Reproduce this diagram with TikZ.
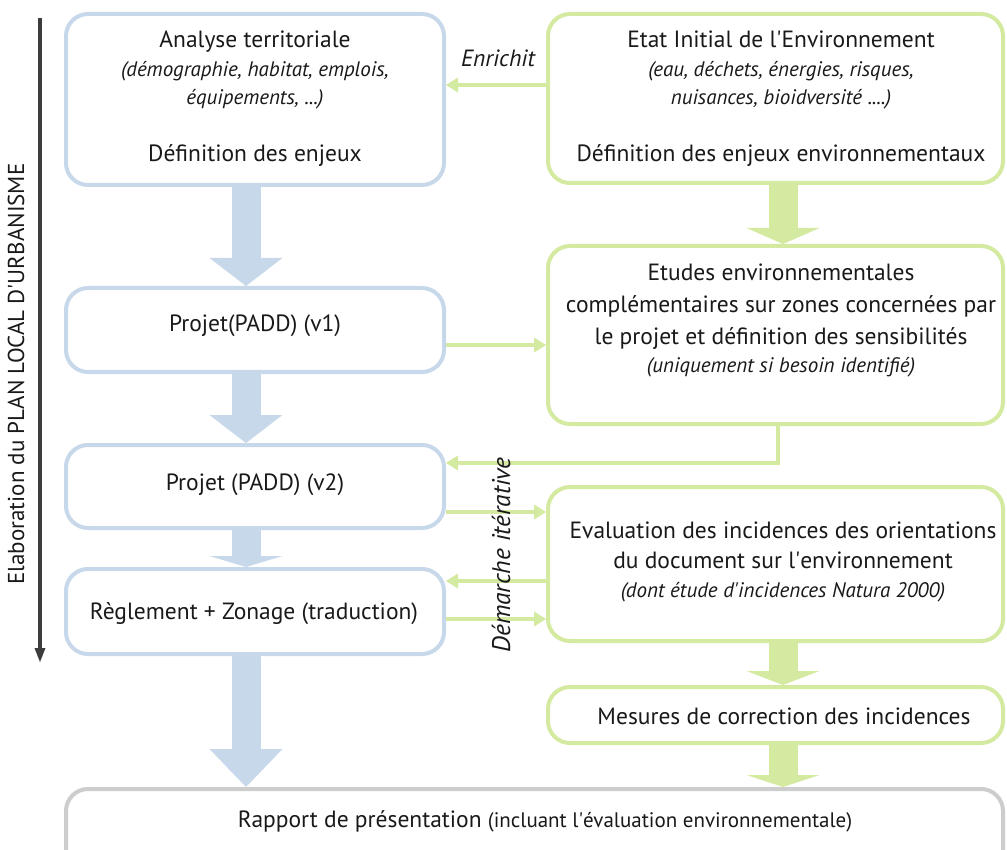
\documentclass[tikz,border=0pt]{standalone}
\usepackage{fontspec}
\setmainfont{PT Sans}
\usetikzlibrary{arrows.meta}
\pgfdeclarelayer{back}
\pgfdeclarelayer{bg}
\pgfsetlayers{back,bg,main}
\definecolor{bl}{RGB}{200,216,235}
\definecolor{gr}{RGB}{212,234,160}
\definecolor{gy}{RGB}{205,205,205}
\definecolor{tx}{RGB}{25,25,25}
\definecolor{dk}{RGB}{60,60,60}
\newcommand\mainsz{\fontsize{23.5}{28.5}\selectfont}
\newcommand\itsz{\fontsize{21}{28.5}\selectfont\itshape}
\newcommand\q{\textquotesingle}
\begin{document}
\begin{tikzpicture}[x=1pt,y=-1pt,
  box/.style={line width=4pt, rounded corners=22pt, fill=white, inner sep=0pt},
  bbox/.style={box, draw=bl, minimum width=378pt},
  gbox/.style={box, draw=gr, minimum width=455pt},
  txt/.style={align=center, text=tx, font=\mainsz, inner sep=0pt},
  itl/.style={text=tx, font=\itsz, inner sep=0pt},
  link/.style={draw=gr, line width=4pt, -{Triangle[length=12pt,width=15pt,line width=0pt]}},
  fatb/.style={line width=29pt, draw=bl, -{Triangle[length=#1,width=73pt,line width=0pt]}},
  fatg/.style={line width=29pt, draw=gr, -{Triangle[length=#1,width=73pt,line width=0pt]}},
]
\path[use as bounding box] (0,0) rectangle (1007,850);
\begin{pgfonlayer}{back}
\fill[white] (0,0) rectangle (1007,850);
\end{pgfonlayer}

% boxes
\node[bbox, minimum height=171pt] (A) at (255,99.5) {};
\node[gbox, minimum height=169pt] (B) at (775.5,98.5) {};
\node[bbox, minimum height=84pt] (P1) at (255,330) {};
\node[gbox, minimum height=178pt] (E) at (775.5,335) {};
\node[bbox, minimum height=83pt] (P2) at (255,486.5) {};
\node[gbox, minimum height=154pt] (Ev) at (775.5,564) {};
\node[bbox, minimum height=85pt] (R) at (255,611.5) {};
\node[gbox, minimum height=56pt] (M) at (775.5,715) {};
\node[box, draw=gy, minimum width=937pt, minimum height=91pt] (Rap) at (534.5,834.5) {};

% texts
\node[txt] (At) at (255,99) {Analyse territoriale\\ {\itsz (démographie, habitat, emplois,}\\ {\itsz équipements, ...)}\\[28.5pt] Définition des enjeux};
\node[txt] (Bt) at (781,99) {Etat Initial de l\q Environnement\\ {\itsz (eau, déchets, énergies, risques,}\\ {\itsz nuisances, bioidversité ....)}\\[28.5pt] Définition des enjeux environnementaux};
\node[txt, font=\fontsize{23.5}{32}\selectfont] (Et) at (781,320.5) {Etudes environnementales\\ complémentaires sur zones concernées par\\ le projet et définition des sensibilités\\[-4.5pt] {\fontsize{21}{32}\selectfont\itshape (uniquement si besoin identifié)}};
\node[txt, anchor=base] (P1t) at (255,332) {Projet(PADD) (v1)};
\node[txt, anchor=base] (P2t) at (255,490.5) {Projet (PADD) (v2)};
\node[txt, font=\fontsize{23.5}{30}\selectfont] (Evt) at (783,561.5) {Evaluation des incidences des orientations\\ du document sur l\q environnement\\[-1pt] {\fontsize{21}{30}\selectfont\itshape (dont étude d\q incidences Natura 2000)}};
\node[txt, anchor=base] (Rt) at (254,619.5) {Règlement + Zonage (traduction)};
\node[txt, anchor=base] (Mt) at (784,724.5) {Mesures de correction des incidences};
\node[txt, anchor=base] (Rapt) at (545,827.5) {Rapport de présentation {\fontsize{21}{24}\selectfont (incluant l\q évaluation environnementale)}};

% side labels
\node[txt, font=\fontsize{23}{26}\selectfont, rotate=90] (elab) at (16,374) {Elaboration du PLAN LOCAL D\q URBANISME};
\node[itl, font=\fontsize{25.5}{28}\selectfont\itshape, rotate=90] (dem) at (501,555) {Démarche itérative};
\node[itl, font=\fontsize{23.5}{26}\selectfont\itshape, anchor=base] (enr) at (498,67) {Enrichit};

\coordinate (ltop) at (40,18);
\coordinate (lbot) at (40,662);

\begin{pgfonlayer}{bg}
\draw[dk, line width=3.5pt, -{Triangle[length=14pt,width=11pt,line width=0pt]}] (ltop) -- (lbot);
% thick arrows
\draw[fatb=28pt] (A.south -| 246,0) -- (P1.north -| 246,0);
\draw[fatb=28pt] (P1.south -| 246,0) -- (P2.north -| 246,0);
\draw[fatb=11pt] (P2.south -| 246,0) -- (R.north -| 246,0);
\draw[fatb=38pt] (R.south -| 246,0) -- (Rap.north -| 246,0);
\draw[fatg=16pt] (B.south -| 783,0) -- (E.north -| 783,0);
\draw[fatg=14pt] (Ev.south -| 783,0) -- (M.north -| 783,0);
\draw[fatg=12pt] (M.south -| 783,0) -- (Rap.north -| 783,0);
% links
\draw[link] (B.west |- 0,85) -- (A.east |- 0,85);
\draw[link] (P1.east |- 0,345) -- (E.west |- 0,345);
\draw[link] (E.south -| 778,0) |- (P2.east |- 0,463);
\draw[link] (P2.east |- 0,512) -- (Ev.west |- 0,512);
\draw[link] (Ev.west |- 0,581) -- (R.east |- 0,581);
\draw[link] (R.east |- 0,619) -- (Ev.west |- 0,619);
\end{pgfonlayer}
\end{tikzpicture}
\end{document}
